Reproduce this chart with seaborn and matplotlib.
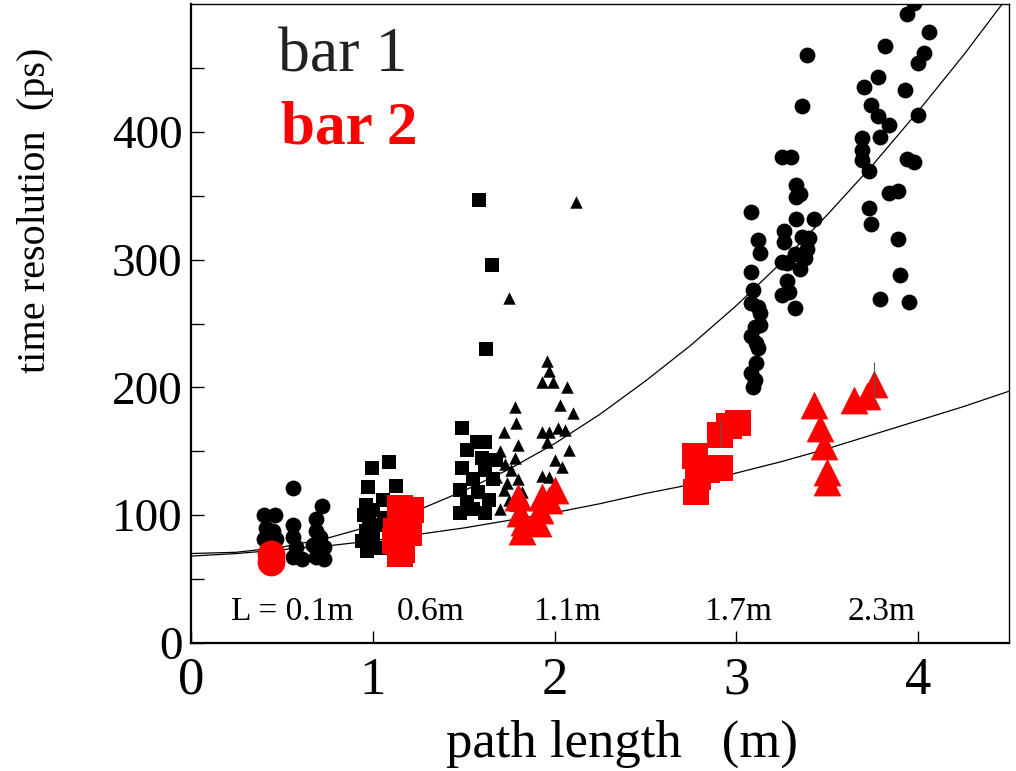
import matplotlib
matplotlib.use("Agg")
import matplotlib.pyplot as plt
import seaborn as sns
import numpy as np

# ---------------- data ----------------
# bar 1 (black)
b1_circle_x = [0.40, 0.46, 0.41, 0.45, 0.40, 0.47, 0.41, 0.41,
               0.563, 0.56, 0.56, 0.58, 0.56, 0.61,
               0.72, 0.69, 0.69, 0.71, 0.67, 0.73, 0.69, 0.73,
               3.08, 3.12, 3.13, 3.08, 3.09, 3.08, 3.12, 3.13, 3.13, 3.10, 3.08, 3.11, 3.12, 3.11, 3.08, 3.10, 3.09,
               3.39, 3.36, 3.25, 3.30, 3.33, 3.35, 3.33, 3.33, 3.43, 3.26, 3.26, 3.36, 3.40, 3.39, 3.38, 3.32,
               3.25, 3.28, 3.35, 3.28, 3.29, 3.25, 3.32,
               3.98, 3.94, 4.06, 3.82, 4.03, 4.00, 3.78, 3.70, 3.93, 3.74, 3.78, 4.00, 3.84, 3.79, 3.69, 3.69,
               3.69, 3.73, 3.94, 3.98, 3.84, 3.89, 3.73, 3.74, 3.89, 3.90, 3.79, 3.95]
b1_circle_y = [100, 100, 90, 88, 81, 81, 71, 63,
               121, 92, 83, 75, 67, 66,
               107, 97, 88, 83, 77, 75, 67, 66,
               337, 315, 305, 290, 276, 266, 263, 258, 249, 247, 240, 235, 231, 219, 211, 206, 200,
               460, 420, 380, 380, 358, 351, 349, 332, 332, 322, 314, 318, 317, 308, 301, 304,
               298, 297, 293, 283, 275, 272, 262,
               501, 492, 478, 467, 462, 454, 443, 435, 433, 421, 412, 413, 405, 396, 395, 386,
               378, 369, 379, 376, 352, 354, 340, 328, 316, 288, 269, 267]

b1_square_x = [0.995, 1.088, 0.973, 1.126, 1.055, 0.96, 1.00, 0.95, 0.98, 1.02, 0.96, 1.00, 0.94, 0.99,
               1.04, 0.97, 1.06,
               1.582, 1.655, 1.624, 1.49, 1.52, 1.575, 1.62, 1.49, 1.48, 1.48, 1.55, 1.62, 1.64, 1.62,
               1.68, 1.66, 1.52, 1.58, 1.55, 1.60]
b1_square_y = [137, 142, 122, 123, 112, 108, 104, 100, 96, 92, 88, 84, 80, 76,
               74, 72, 98,
               347, 296, 230, 168, 151, 157, 157, 137, 120, 102, 128, 135, 112, 102,
               143, 128, 110, 118, 105, 145]

b1_tri_x = [2.116, 1.75, 1.956, 1.968, 1.93, 1.99, 2.07, 1.78, 2.03, 1.79, 1.72, 2.10, 1.93, 1.97,
            2.02, 2.06, 1.96, 2.08, 2.00, 2.04, 1.93, 1.97, 1.70, 1.73, 1.76, 1.78, 1.80, 1.72,
            1.75, 1.78, 1.70, 1.82, 1.68, 1.74, 1.80]
b1_tri_y = [345, 270, 221, 213, 204, 204, 200, 185, 186, 172, 165, 180, 165, 165,
            168, 167, 157, 151, 143, 138, 131, 130, 150, 140, 135, 145, 128, 120,
            112, 108, 105, 118, 130, 125, 155]

# bar 2 (red)
b2_circle_x = [0.44, 0.44]
b2_circle_y = [70, 63]
b2_square_x = [1.15, 1.21, 1.18, 1.13, 1.12, 1.16, 1.15, 1.20,
               3.01, 2.96, 2.91, 2.77, 2.91, 2.79, 2.78, 2.84]
b2_square_y = [106, 104, 94, 88, 80, 73, 70, 86,
               172, 170, 163, 146, 137, 130, 118, 135]
b2_tri_x = [1.80, 1.81, 1.83, 1.82, 1.93, 1.92, 1.91, 2.00, 1.97,
            3.43, 3.46, 3.48, 3.50, 3.50, 3.65, 3.72, 3.76]
b2_tri_y = [114, 102, 95, 88, 114, 104, 94, 120, 112,
            186, 168, 154, 134, 126, 190, 193, 203]

# small error bars seen on two red points
err_x = [2.91, 3.76]
err_y = [164, 204]
err_h = [11, 16]

# fitted curves
curve_x = [0.0, 0.25, 0.5, 0.75, 1.0, 1.25, 1.5, 1.75, 2.0, 2.25, 2.5, 2.75, 3.0,
           3.25, 3.5, 3.75, 4.0, 4.25, 4.5]
curve1_y = [70, 71, 75, 82, 92, 104, 119, 136, 156, 179, 205, 233, 264, 298, 335, 374, 416, 460, 507]
curve2_y = [68, 70, 73, 76, 80, 85, 90, 96, 102, 109, 117, 124, 133, 142, 152, 163, 174, 185, 197]

# text
xticks = [0, 1, 2, 3, 4]
yticks = [0, 100, 200, 300, 400]
length_labels = ["L = 0.1m", "0.6m", "1.1m", "1.7m", "2.3m"]
length_label_x = [0.558, 1.318, 2.07, 3.01, 3.80]
legend_texts = ["bar 1", "bar 2"]

# ---------------- plotting ----------------
sns.set_style("ticks")
plt.rcParams["font.family"] = ["Liberation Serif", "DejaVu Serif"]
for key in ["text.color", "axes.labelcolor", "xtick.color", "ytick.color", "axes.edgecolor"]:
    plt.rcParams[key] = "black"

fig = plt.figure(figsize=(10.16, 7.71), dpi=100)
ax = fig.add_axes([191 / 1016, 1 - 643 / 771, (1009 - 191) / 1016, (643 - 4) / 771])

sns.lineplot(x=curve_x, y=curve1_y, ax=ax, color="black", lw=0.9, estimator=None, sort=False, zorder=1)
sns.lineplot(x=curve_x, y=curve2_y, ax=ax, color="black", lw=0.9, estimator=None, sort=False, zorder=1)

kw = dict(ax=ax, linewidth=0, legend=False)
sns.scatterplot(x=b1_circle_x, y=b1_circle_y, marker="o", s=130, color="black", zorder=2, **kw)
sns.scatterplot(x=b1_square_x, y=b1_square_y, marker="s", s=92, color="black", zorder=2, **kw)
sns.scatterplot(x=b1_tri_x, y=b1_tri_y, marker="^", s=80, color="black", zorder=2, **kw)
sns.scatterplot(x=b2_circle_x, y=b2_circle_y, marker="o", s=400, color="#ff0000", zorder=3, **kw)
sns.scatterplot(x=b2_square_x, y=b2_square_y, marker="s", s=340, color="#ff0000", zorder=3, **kw)
sns.scatterplot(x=b2_tri_x, y=b2_tri_y, marker="^", s=400, color="#ff0000", zorder=3, **kw)

ax.errorbar(err_x, err_y, yerr=err_h, fmt="none", ecolor="#555555", elinewidth=0.8, capsize=0, zorder=4)

ax.set_xlim(0, 4.5)
ax.set_ylim(0, 500)
ax.set_xticks(xticks)
ax.set_yticks(yticks)
ax.set_yticks(np.arange(50, 500, 100), minor=True)
ax.tick_params(axis="both", which="both", direction="in", top=False, right=False, color="black")
ax.tick_params(axis="x", which="major", length=9, width=1, labelsize=38, pad=10)
ax.tick_params(axis="y", which="major", length=9, width=1, labelsize=34, pad=6)
ax.tick_params(axis="y", which="minor", length=9, width=1)

for side in ["left", "bottom"]:
    ax.spines[side].set_linewidth(1.6)
for side in ["top", "right"]:
    ax.spines[side].set_linewidth(1.0)
    ax.spines[side].set_visible(True)

ax.set_xlabel("path length   (m)", fontsize=38)
ax.xaxis.set_label_coords((622 - 191) / 818, -0.12)
ax.set_ylabel("time resolution  (ps)", fontsize=29)
ax.yaxis.set_label_coords(-0.167, (643 - 210) / 639)

for lab, lx in zip(length_labels, length_label_x):
    ax.text(lx, 18, lab, fontsize=24, ha="center", va="baseline", color="black")

ax.text(0.837, 447, legend_texts[0], fontsize=46, ha="center", va="baseline", color="#222222")
ax.text(0.87, 391, legend_texts[1], fontsize=44, ha="center", va="baseline", color="#ff0000",
        fontweight="bold")

fig.savefig("out.png", dpi=100, facecolor="white")
